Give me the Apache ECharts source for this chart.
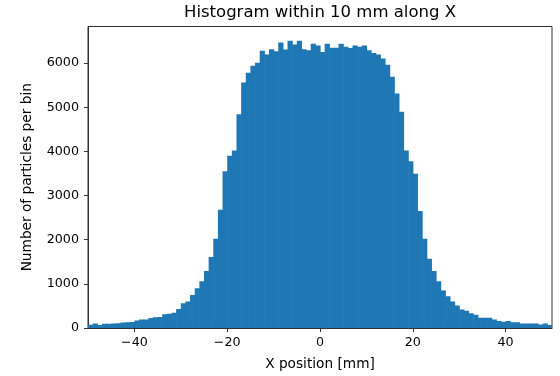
<!DOCTYPE html>
<html>
<head>
<meta charset="utf-8">
<script src="https://cdn.jsdelivr.net/npm/echarts@6/dist/echarts.min.js"></script>
<style>
html,body{margin:0;padding:0;background:#fff;}
#chart{width:560px;height:376px;}
</style>
</head>
<body>
<div id="chart"></div>
<script>
// Left edges of the 1 mm wide bins (mm)
var binLefts = [
  -50,-49,-48,-47,-46,-45,-44,-43,-42,-41,
  -40,-39,-38,-37,-36,-35,-34,-33,-32,-31,
  -30,-29,-28,-27,-26,-25,-24,-23,-22,-21,
  -20,-19,-18,-17,-16,-15,-14,-13,-12,-11,
  -10,-9,-8,-7,-6,-5,-4,-3,-2,-1,
  0,1,2,3,4,5,6,7,8,9,
  10,11,12,13,14,15,16,17,18,19,
  20,21,22,23,24,25,26,27,28,29,
  30,31,32,33,34,35,36,37,38,39,
  40,41,42,43,44,45,46,47,48,49
];
var binWidth = 1;
// Number of particles per bin
var counts = [
  75,100,70,95,95,100,105,125,130,135,
  170,190,195,225,245,250,310,320,345,430,
  560,600,750,900,1060,1290,1610,2020,2680,3550,
  3900,4020,4840,5560,5780,5940,6010,6280,6195,6315,
  6270,6470,6310,6505,6420,6505,6315,6290,6440,6400,
  6255,6440,6350,6350,6440,6370,6345,6400,6370,6400,
  6290,6230,6195,6105,5965,5690,5310,4900,4020,3775,
  3495,2650,2020,1570,1290,1060,850,720,600,510,
  420,390,335,300,230,230,230,190,160,140,
  160,130,130,100,100,100,100,80,100,70
];
var xTicks = [-40,-20,0,20,40];
var yTicks = [0,1000,2000,3000,4000,5000,6000];

var data = binLefts.map(function (l, i) { return [l, l + binWidth, counts[i]]; });

var chart = echarts.init(document.getElementById('chart'), null, {renderer: 'canvas'});
var font = 'DejaVu Sans';
chart.setOption({
  animation: false,
  backgroundColor: '#fff',
  textStyle: {fontFamily: font},
  graphic: [{
    type: 'text', x: 320, y: 13,
    style: {text: 'Histogram within 10 mm along X', font: '16.5px "DejaVu Sans"', fill: '#000', textAlign: 'center', textVerticalAlign: 'middle'}
  }],
  grid: {left: 88, right: 8, top: 26.5, bottom: 47.5, show: true, borderColor: '#333', borderWidth: 1, containLabel: false},
  xAxis: {
    type: 'value', min: -50, max: 50,
    name: 'X position [mm]', nameLocation: 'middle', nameGap: 29,
    nameTextStyle: {fontFamily: font, fontSize: 13.7, color: '#000'},
    axisLine: {show: true, onZero: false, lineStyle: {color: '#333', width: 1}},
    axisTick: {show: true, length: 4, lineStyle: {color: '#333'}, customValues: xTicks},
    axisLabel: {fontFamily: font, fontSize: 12.7, color: '#000', margin: 8, customValues: xTicks,
      formatter: function (v) { return v < 0 ? '\u2212' + Math.abs(v) : String(v); }},
    splitLine: {show: false}
  },
  yAxis: {
    type: 'value', min: 0, max: 6830,
    name: 'Number of particles per bin', nameLocation: 'middle', nameGap: 54,
    nameTextStyle: {fontFamily: font, fontSize: 13.7, color: '#000'},
    axisLine: {show: true, onZero: false, lineStyle: {color: '#333', width: 1}},
    axisTick: {show: true, length: 4, lineStyle: {color: '#333'}, customValues: yTicks},
    axisLabel: {fontFamily: font, fontSize: 12.7, color: '#000', margin: 9, customValues: yTicks,
      formatter: function (v) { return String(v); }},
    splitLine: {show: false}
  },
  series: [{
    type: 'custom',
    data: data,
    encode: {x: [0, 1], y: 2},
    renderItem: function (params, api) {
      var p0 = api.coord([api.value(0), 0]);
      var p1 = api.coord([api.value(1), api.value(2)]);
      return {
        type: 'rect',
        shape: {x: p0[0], y: p1[1], width: p1[0] - p0[0] + 0.6, height: p0[1] - p1[1]},
        style: {fill: '#1f77b4'}
      };
    },
    clip: true
  }]
});
</script>
</body>
</html>
